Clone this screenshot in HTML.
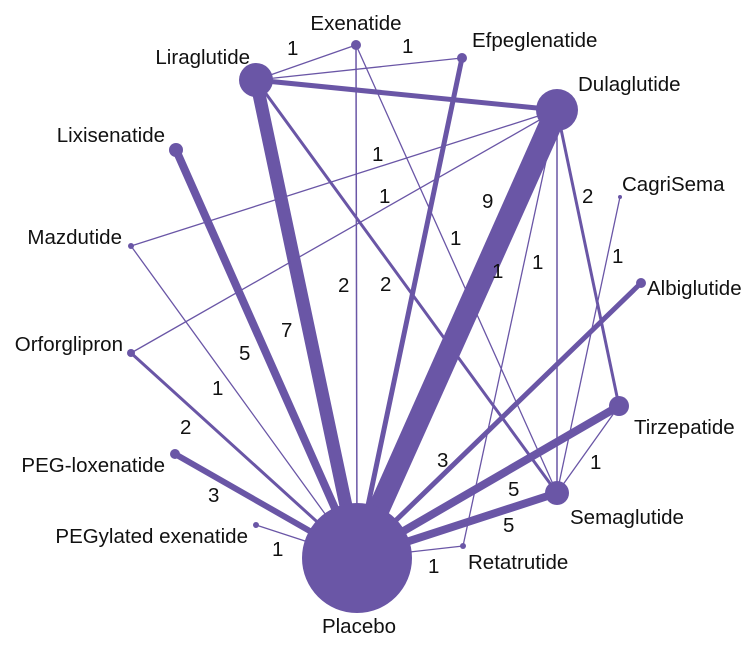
<!DOCTYPE html>
<html><head><meta charset="utf-8"><style>
html,body{margin:0;padding:0;background:#fff;}
svg text{font-family:"Liberation Sans",sans-serif;font-size:20.5px;fill:#111;}
</style></head><body>
<svg width="756" height="640" viewBox="0 0 756 640" xmlns="http://www.w3.org/2000/svg">
<g stroke="#6a56a6" stroke-linecap="round" fill="none">
<line x1="256" y1="80" x2="356" y2="45" stroke-width="1.3"/>
<line x1="256" y1="80" x2="462" y2="58" stroke-width="1.3"/>
<line x1="256" y1="80" x2="557" y2="110" stroke-width="5"/>
<line x1="256" y1="80" x2="357" y2="558" stroke-width="13"/>
<line x1="256" y1="80" x2="557" y2="493" stroke-width="3"/>
<line x1="356" y1="45" x2="357" y2="558" stroke-width="1.5"/>
<line x1="356" y1="45" x2="557" y2="493" stroke-width="1.3"/>
<line x1="462" y1="58" x2="357" y2="558" stroke-width="5"/>
<polygon points="547,104 567,116 368,560 346,556" fill="#6a56a6" stroke="none"/>
<line x1="557" y1="110" x2="131" y2="246" stroke-width="1.3"/>
<line x1="557" y1="110" x2="131" y2="353" stroke-width="1.3"/>
<line x1="557" y1="110" x2="619" y2="406" stroke-width="3"/>
<line x1="557" y1="110" x2="557" y2="493" stroke-width="1.5"/>
<line x1="557" y1="110" x2="463" y2="546" stroke-width="1.3"/>
<line x1="620" y1="197" x2="557" y2="493" stroke-width="1.3"/>
<line x1="176" y1="150" x2="357" y2="558" stroke-width="8"/>
<line x1="131" y1="246" x2="357" y2="558" stroke-width="1.3"/>
<line x1="131" y1="353" x2="357" y2="558" stroke-width="3"/>
<line x1="175" y1="454" x2="357" y2="558" stroke-width="6"/>
<line x1="256" y1="525" x2="357" y2="558" stroke-width="1.3"/>
<line x1="463" y1="546" x2="357" y2="558" stroke-width="1.3"/>
<line x1="641" y1="283" x2="357" y2="558" stroke-width="5"/>
<line x1="619" y1="406" x2="357" y2="558" stroke-width="8"/>
<line x1="557" y1="493" x2="357" y2="558" stroke-width="8"/>
<line x1="619" y1="406" x2="557" y2="493" stroke-width="1.3"/>
</g>
<g fill="#6a56a6">
<circle cx="357" cy="558" r="55"/>
<circle cx="256" cy="80" r="17"/>
<circle cx="356" cy="45" r="5"/>
<circle cx="462" cy="58" r="5"/>
<circle cx="557" cy="110" r="21"/>
<circle cx="176" cy="150" r="7"/>
<circle cx="620" cy="197" r="2"/>
<circle cx="131" cy="246" r="3"/>
<circle cx="641" cy="283" r="5"/>
<circle cx="131" cy="353" r="4"/>
<circle cx="619" cy="406" r="10"/>
<circle cx="557" cy="493" r="12"/>
<circle cx="175" cy="454" r="5"/>
<circle cx="256" cy="525" r="3"/>
<circle cx="463" cy="546" r="3"/>
</g>
<g>
<text x="250" y="64" text-anchor="end">Liraglutide</text>
<text x="356" y="30" text-anchor="middle">Exenatide</text>
<text x="472" y="47">Efpeglenatide</text>
<text x="578" y="91">Dulaglutide</text>
<text x="165" y="142" text-anchor="end">Lixisenatide</text>
<text x="622" y="191">CagriSema</text>
<text x="122" y="244" text-anchor="end">Mazdutide</text>
<text x="647" y="295">Albiglutide</text>
<text x="123" y="351" text-anchor="end">Orforglipron</text>
<text x="634" y="434">Tirzepatide</text>
<text x="570" y="524">Semaglutide</text>
<text x="165" y="472" text-anchor="end">PEG-loxenatide</text>
<text x="248" y="543" text-anchor="end">PEGylated exenatide</text>
<text x="468" y="569">Retatrutide</text>
<text x="359" y="633" text-anchor="middle">Placebo</text>
<text x="287" y="55">1</text>
<text x="402" y="53">1</text>
<text x="372" y="161">1</text>
<text x="379" y="203">1</text>
<text x="482" y="208">9</text>
<text x="582" y="203">2</text>
<text x="612" y="263">1</text>
<text x="450" y="245">1</text>
<text x="380" y="291">2</text>
<text x="338" y="292">2</text>
<text x="532" y="269">1</text>
<text x="492" y="278">1</text>
<text x="281" y="337">7</text>
<text x="239" y="360">5</text>
<text x="212" y="395">1</text>
<text x="180" y="434">2</text>
<text x="208" y="502">3</text>
<text x="272" y="556">1</text>
<text x="428" y="573">1</text>
<text x="437" y="467">3</text>
<text x="508" y="496">5</text>
<text x="503" y="532">5</text>
<text x="590" y="469">1</text>
</g>
</svg>
</body></html>
